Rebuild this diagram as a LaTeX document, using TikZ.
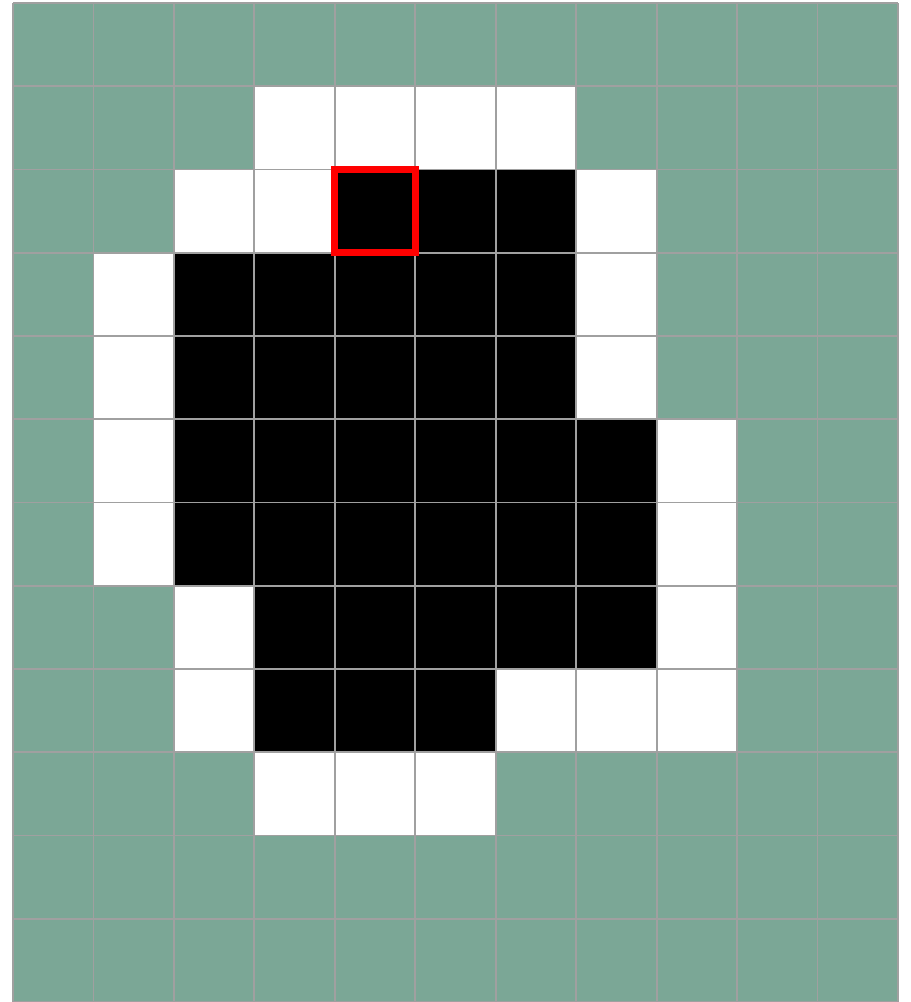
\documentclass[tikz,border=0pt]{standalone}
\usepackage{tikz}
\definecolor{PlaneGreen}{HTML}{7BA796}
\definecolor{GridGray}{HTML}{A0A0A0}
\definecolor{PickRed}{HTML}{FF0000}

\begin{document}
\begin{tikzpicture}[
      x={(60.34pt,0)},y={(0,-62.44pt)},
      rim/.style={fill=white},
      blob/.style={fill=black},
      gridline/.style={draw=GridGray,line width=1.4pt},
      pick/.style={draw=PickRed,line width=5.5pt},
    ]
    \useasboundingbox (-0.1616,-0.036) rectangle (11.162,12.0);

    % background plane
    \fill[PlaneGreen] (0,0) rectangle (11,12);

    % white border cells
    \foreach \r/\cols in {1/{3,4,5,6}, 2/{2,3,7}, 3/{1,7}, 4/{1,7},
                          5/{1,8}, 6/{1,8}, 7/{2,8}, 8/{2,6,7,8}, 9/{3,4,5}}
      \foreach \c in \cols
        \path[rim] (\c,\r) rectangle ++(1,1);

    % black region
    \foreach \r/\cols in {2/{4,5,6}, 3/{2,...,6}, 4/{2,...,6},
                          5/{2,...,7}, 6/{2,...,7}, 7/{3,...,7}, 8/{3,4,5}}
      \foreach \c in \cols
        \path[blob] (\c,\r) rectangle ++(1,1);

    % grid lines
    \foreach \c in {0,...,11}
      \path[gridline] (\c,0) -- (\c,12);
    \foreach \r in {0,...,12}
      \path[gridline] (0,\r) -- (11,\r);

    % selected cell
    \draw[pick] (4,2) rectangle (5,3);
  \end{tikzpicture}
\end{document}
